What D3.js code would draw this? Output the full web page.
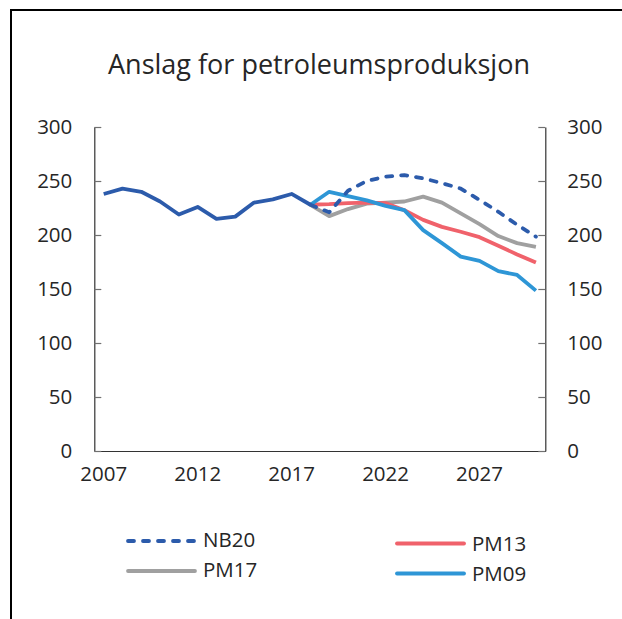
<!DOCTYPE html>
<html>
<head>
<meta charset="utf-8">
<script src="https://cdn.jsdelivr.net/npm/d3@7/dist/d3.min.js"></script>
<style>
body { margin: 0; background: #fff; }
text { font-family: "Open Sans", sans-serif; fill: #262626; }
</style>
</head>
<body>
<div id="chart"></div>
<script>
// years on the category axis
var years = d3.range(2007, 2031);
var x_tick_labels = [2007, 2012, 2017, 2022, 2027];
var y_tick_labels = [0, 50, 100, 150, 200, 250, 300];

// history 2007-2018
var hist_years = d3.range(2007, 2019);
var hist_values = [238, 243, 240, 231, 219, 226, 215, 217, 230, 233, 238, 228];

// forecasts 2018-2030
var fc_years = d3.range(2018, 2031);
var nb20 = [228, 221, 241, 250, 254, 255.5, 252.5, 248, 243, 232.5, 221.5, 209.5, 198.5];
var pm17 = [228, 217.5, 224, 229, 230, 231, 235.5, 230, 220, 210, 199, 192.5, 189];
var pm13 = [228, 228.5, 229.5, 230, 229.5, 223, 214, 207.5, 203, 198, 190, 182, 174.5];
var pm09 = [228, 240, 236, 232, 227, 223, 204.5, 192.5, 180, 176, 166.5, 163, 148.5];

const margin = { top: 127, bottom: 168, left: 94.3, right: 76.7 };
const W = 622, H = 619;

var svg = d3.select("#chart").append("svg")
    .attr("width", W)
    .attr("height", H);

// frame
svg.append("path")
    .attr("d", "M11,619 L11,10 L622,10")
    .attr("fill", "none")
    .attr("stroke", "#000")
    .attr("stroke-width", 2);

svg.append("text")
    .attr("x", 319)
    .attr("y", 73.5)
    .attr("text-anchor", "middle")
    .style("font-size", "27px")
    .text("Anslag for petroleumsproduksjon");

var xScale = d3.scaleBand()
    .domain(years)
    .range([margin.left, W - margin.right]);
var yScale = d3.scaleLinear()
    .domain([0, 300])
    .range([H - margin.bottom, margin.top]);

function xc(yr) { return xScale(yr) + xScale.bandwidth() / 2; }

function style_axis(g) {
    g.select(".domain").attr("stroke", "#333").attr("stroke-width", 1.2);
    g.selectAll(".tick line").attr("stroke", "#707070").attr("stroke-width", 1.2);
    g.selectAll(".tick text").style("font-size", "20.5px").attr("fill", "#262626")
        .style("font-family", "'Open Sans', sans-serif");
}

svg.append("g")
    .attr("transform", "translate(0," + (H - margin.bottom) + ")")
    .call(d3.axisBottom(xScale).tickValues(x_tick_labels).tickSize(0).tickPadding(15))
    .call(style_axis);

svg.append("g")
    .attr("transform", "translate(" + margin.left + ",0)")
    .call(d3.axisLeft(yScale).tickValues(y_tick_labels).tickSizeInner(-7).tickSizeOuter(0).tickPadding(22))
    .call(style_axis);

svg.append("g")
    .attr("transform", "translate(" + (W - margin.right) + ",0)")
    .call(d3.axisRight(yScale).tickValues(y_tick_labels).tickSizeInner(-7).tickSizeOuter(0).tickPadding(22))
    .call(style_axis);

var line = d3.line()
    .x(function (d) { return xc(d[0]); })
    .y(function (d) { return yScale(d[1]); });

function zip(xs, ys) {
    return xs.map(function (v, i) { return [v, ys[i]]; });
}

var series = [
    { name: "PM17", years: fc_years, values: pm17, color: "#a0a0a0", dash: null },
    { name: "PM13", years: fc_years, values: pm13, color: "#f0626b", dash: null },
    { name: "PM09", years: fc_years, values: pm09, color: "#2e96d6", dash: null },
    { name: "hist", years: hist_years, values: hist_values, color: "#2c5bab", dash: null },
    { name: "NB20", years: fc_years, values: nb20, color: "#2c5bab", dash: "6,9" }
];

series.forEach(function (s) {
    svg.append("path")
        .datum(zip(s.years, s.values))
        .attr("fill", "none")
        .attr("stroke", s.color)
        .attr("stroke-width", 3.8)
        .attr("stroke-linejoin", "round")
        .attr("stroke-linecap", s.dash ? "round" : "butt")
        .attr("stroke-dasharray", s.dash)
        .attr("d", line);
});

// legend
var legend = [
    { name: "NB20", color: "#2c5bab", dash: "6,9", x: 128, y: 541, ty: 547 },
    { name: "PM17", color: "#a0a0a0", dash: null, x: 128, y: 571, ty: 577 },
    { name: "PM13", color: "#f0626b", dash: null, x: 397, y: 543.5, ty: 551 },
    { name: "PM09", color: "#2e96d6", dash: null, x: 397, y: 573.5, ty: 581 }
];

legend.forEach(function (l) {
    svg.append("line")
        .attr("x1", l.x).attr("x2", l.x + 67)
        .attr("y1", l.y).attr("y2", l.y)
        .attr("stroke", l.color)
        .attr("stroke-width", 3.8)
        .attr("stroke-linecap", "round")
        .attr("stroke-dasharray", l.dash);
    svg.append("text")
        .attr("x", l.x + 75)
        .attr("y", l.ty)
        .style("font-size", "20.5px")
        .text(l.name);
});
</script>
</body>
</html>
